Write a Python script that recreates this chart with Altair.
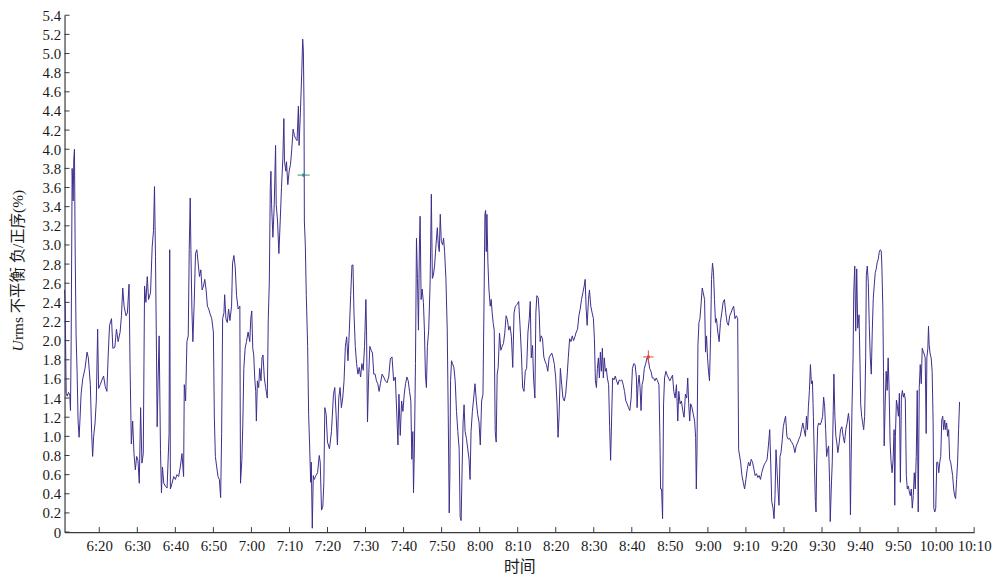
import altair as alt
import pandas as pd

# time in minutes after 6:00, value in %
t_min = [
    10.87, 11.04, 11.30, 11.57, 11.91, 12.26, 12.43, 12.61, 12.87, 13.13, 13.30, 13.48, 13.65, 13.91, 14.17, 14.43,
    14.70, 14.96, 15.22, 15.65, 16.26, 16.78, 17.13, 17.65, 18.00, 18.26, 18.52, 18.87, 19.22, 19.57, 19.83, 20.26,
    20.61, 21.13, 21.57, 22.00, 22.35, 22.70, 23.22, 23.57, 24.09, 24.52, 24.96, 25.48, 25.83, 26.17, 26.52, 27.04,
    27.39, 27.83, 28.09, 28.43, 28.78, 29.13, 29.48, 29.83, 30.17, 30.52, 30.87, 31.22, 31.57, 31.91, 32.26, 32.61,
    32.96, 33.48, 33.91, 34.26, 34.52, 34.78, 35.04, 35.22, 35.48, 35.74, 36.09, 36.35, 36.61, 36.96, 37.39, 37.83,
    38.35, 38.52, 38.70, 39.13, 39.57, 40.00, 40.43, 40.87, 41.30, 41.74, 42.17, 42.35, 42.70, 43.04, 43.39, 43.65,
    43.91, 44.09, 44.35, 44.61, 44.96, 45.30, 45.65, 46.00, 46.35, 46.70, 47.04, 47.39, 47.74, 48.09, 48.43, 48.78,
    49.13, 49.57, 50.00, 50.26, 50.52, 50.87, 51.22, 51.57, 51.91, 52.17, 52.43, 52.78, 52.96, 53.30, 53.65, 54.00,
    54.35, 54.78, 55.04, 55.39, 55.74, 56.09, 56.52, 56.96, 57.13, 57.48, 57.74, 58.00, 58.35, 58.70, 59.13, 59.57,
    59.83, 60.09, 60.35, 60.61, 60.87, 61.13, 61.30, 61.57, 61.91, 62.17, 62.52, 62.78, 63.04, 63.39, 63.74, 64.17,
    64.43, 64.70, 64.96, 65.13, 65.30, 65.65, 66.00, 66.35, 66.52, 66.87, 67.22, 67.57, 67.91, 68.26,
    68.53, 68.70, 69.05, 69.22, 69.57, 69.92, 70.27, 70.61, 70.96, 71.31, 71.66, 72.00, 72.35, 72.53, 72.87, 73.22,
    73.48, 73.66, 73.83, 73.92,
    74.17, 74.43, 74.78, 75.04, 75.30, 75.57, 75.74, 76.00, 76.26, 76.52, 76.96, 77.39, 77.83, 78.09, 78.43, 78.78,
    79.04, 79.30, 79.65, 80.00, 80.52, 81.04, 81.57, 81.91, 82.26, 82.61, 82.96, 83.30, 83.65, 84.00, 84.35, 84.70,
    85.04, 85.39, 85.74, 86.09, 86.43, 86.70, 86.96, 87.30, 87.65, 88.00, 88.35, 88.70, 89.04, 89.39, 89.74, 90.09,
    90.26, 90.52, 90.78, 91.13, 91.48, 91.83, 92.17, 92.52, 92.87, 93.22, 93.57, 93.91, 94.35, 94.78, 95.22, 95.65,
    96.09, 96.52, 96.96, 97.39, 97.83, 98.26, 98.52, 98.78, 99.13, 99.48, 99.83, 100.17, 100.52, 100.87, 101.22, 101.57,
    101.91, 102.17, 102.43, 102.61, 102.87, 103.13, 103.39, 103.65, 103.91, 104.17, 104.35, 104.61, 104.87, 105.22, 105.48, 105.74,
    106.00, 106.26, 106.61, 106.96, 107.13, 107.30, 107.57, 107.83, 108.17, 108.52, 108.87, 109.13, 109.39, 109.65, 109.91, 110.26,
    110.52, 110.78, 111.13, 111.48, 111.74, 112.00, 112.17, 112.35, 112.61, 112.87, 113.22, 113.57, 113.91, 114.26, 114.61, 114.87,
    115.13, 115.39, 115.65, 115.91, 116.17, 116.52, 116.87, 117.22, 117.48, 117.74, 118.09, 118.43, 118.78, 119.13, 119.48, 119.83,
    120.17, 120.52, 120.87, 121.13, 121.39, 121.57, 121.74, 121.91, 122.17, 122.43, 122.78, 123.04, 123.30, 123.57, 123.83, 124.09,
    124.35, 124.61, 124.87, 125.22, 125.57, 125.91, 126.26, 126.61, 126.96, 127.30, 127.65, 128.00, 128.35, 128.70, 129.04, 129.39,
    129.91, 130.26, 130.61, 130.96, 131.30, 131.65, 132.00, 132.35, 132.70, 133.04, 133.30, 133.57, 133.91, 134.17, 134.52, 134.78,
    135.04, 135.39, 135.65, 135.91, 136.17, 136.52, 136.87, 137.22, 137.57, 137.91, 138.26, 138.61, 138.96, 139.30, 139.65, 140.00,
    140.35, 140.61, 140.87, 141.22, 141.57, 141.91, 142.26, 142.61, 142.96, 143.30, 143.65, 144.00, 144.35, 144.70, 145.04, 145.39,
    145.74, 146.09, 146.43, 146.78, 147.13, 147.48, 147.74, 148.00, 148.26, 148.61, 148.87, 149.22, 149.57, 149.91, 150.17, 150.43,
    150.70, 150.96, 151.22, 151.48, 151.74, 152.00, 152.26, 152.52, 152.78, 153.04, 153.30, 153.57, 153.91, 154.17, 154.43, 154.70,
    154.96, 155.30, 155.65, 156.00, 156.35, 156.70, 157.04, 157.39, 157.74, 158.09, 158.43, 158.78, 159.13, 159.48, 159.83, 160.17,
    160.52, 160.87, 161.22, 161.39, 161.65, 161.91, 162.17, 162.43, 162.70, 162.96, 163.30, 163.65, 164.00, 164.35, 164.70, 165.04,
    165.39, 165.74, 166.09, 166.43, 166.78, 167.13, 167.39, 167.57, 167.83, 168.09, 168.35, 168.61, 168.96, 169.30, 169.65, 170.00,
    170.35, 170.70, 171.04, 171.39, 171.74, 172.09, 172.35, 172.70, 173.04, 173.39, 173.74, 174.09, 174.43, 174.70, 174.96, 175.22,
    175.48, 175.83, 176.17, 176.52, 176.78, 176.96, 177.13, 177.39, 177.65, 177.91, 178.17, 178.52, 178.78, 179.13, 179.39, 179.65,
    179.91, 180.17, 180.43, 180.70, 180.96, 181.22, 181.48, 181.74, 182.00, 182.26, 182.61, 182.96, 183.30, 183.65, 184.00, 184.35,
    184.70, 185.04, 185.39, 185.74, 186.09, 186.43, 186.78, 187.13, 187.48, 187.83, 188.09,
    188.61, 188.96, 189.30, 189.65, 190.00, 190.35, 190.70, 191.04, 191.39, 191.74, 192.09, 192.43, 192.78, 193.13, 193.48, 193.83,
    194.17, 194.52, 194.87, 195.22, 195.57, 195.91, 196.26, 196.52, 196.78, 197.13, 197.39, 197.65, 197.91, 198.17, 198.43, 198.70,
    198.96, 199.22, 199.57, 199.83, 200.17, 200.43, 200.78, 201.13, 201.48, 201.83, 202.17, 202.52, 202.87, 203.22, 203.57, 203.91,
    204.26, 204.61, 204.96, 205.30, 205.65, 205.91, 206.17, 206.43, 206.70, 206.96, 207.22, 207.48, 207.74, 208.00, 208.26, 208.43,
    208.61, 208.87, 209.13, 209.48, 209.83, 210.17, 210.43, 210.70, 210.96, 211.22, 211.48, 211.74, 212.00, 212.17, 212.43, 212.70,
    212.96, 213.13, 213.39, 213.65, 213.91, 214.17, 214.52, 214.87, 215.22, 215.57, 215.91, 216.26, 216.61, 216.96, 217.22, 217.48,
    217.65, 217.91, 218.17, 218.35, 218.61, 218.87, 219.13, 219.39, 219.74, 220.00, 220.17, 220.43, 220.70, 220.96, 221.22, 221.48,
    221.65, 221.91, 222.17, 222.43, 222.70, 222.96, 223.22, 223.48, 223.74, 224.00, 224.26, 224.52, 224.78, 225.04, 225.30, 225.57,
    225.74, 226.00, 226.17, 226.35, 226.61, 226.87, 227.13, 227.39, 227.65, 227.91, 228.17, 228.43, 228.70, 228.96, 229.13, 229.30,
    229.57, 229.83, 230.09, 230.35, 230.61, 230.87, 231.13, 231.39, 231.65, 231.91, 232.17, 232.43, 232.70, 232.96, 233.22, 233.48,
    233.74, 234.00, 234.26, 234.52, 234.78, 235.04, 235.30, 235.57, 235.83, 236.09, 236.35, 236.61, 236.87, 237.13, 237.39, 237.57,
    237.83, 238.00, 238.17, 238.43, 238.70, 238.96, 239.22, 239.39, 239.65, 239.91, 240.17, 240.43, 240.70, 240.96, 241.22, 241.48,
    241.74, 242.00, 242.26, 242.52, 242.78, 243.04, 243.30, 243.57, 243.83, 244.09, 244.35, 244.61, 244.87, 245.13, 245.39, 245.65,
    245.91, 246.17,
]

u_val = [
    2.53, 2.36, 1.45, 1.42, 1.46, 1.43, 1.27, 1.99, 3.80, 3.46, 3.90, 4.00, 3.00, 2.05, 1.68, 1.16,
    0.99, 1.20, 1.44, 1.60, 1.71, 1.88, 1.82, 1.54, 1.03, 0.79, 1.00, 1.13, 1.37, 2.12, 1.50, 1.54,
    1.58, 1.63, 1.52, 1.47, 1.85, 2.16, 2.23, 1.92, 1.93, 2.12, 1.99, 2.09, 2.26, 2.55, 2.36, 2.26,
    2.29, 2.59, 1.75, 0.92, 1.16, 0.82, 0.65, 0.79, 0.75, 0.51, 1.30, 0.72, 0.82, 2.57, 2.40, 2.67,
    2.43, 2.50, 2.98, 3.15, 3.61, 2.88, 1.88, 1.10, 1.61, 2.05, 0.86, 0.41, 0.68, 0.51, 0.48, 0.46,
    1.03, 2.95, 0.45, 0.51, 0.58, 0.55, 0.60, 0.58, 0.68, 0.82, 0.58, 1.54, 1.37, 1.99, 2.05, 2.95,
    3.49, 2.95, 2.33, 1.99, 2.40, 2.91, 2.95, 2.81, 2.67, 2.74, 2.53, 2.57, 2.64, 2.53, 2.36, 2.33,
    2.28, 2.23, 2.09, 1.18, 0.79, 0.68, 0.58, 0.55, 0.36, 1.03, 2.23, 2.29, 2.48, 2.23, 2.19, 2.33,
    2.21, 2.36, 2.81, 2.89, 2.77, 2.47, 2.33, 2.36, 0.51, 0.75, 1.13, 1.71, 1.92, 1.99, 2.09, 1.99,
    2.23, 2.31, 1.92, 1.85, 1.61, 1.47, 1.16, 1.58, 1.51, 1.71, 1.58, 1.82, 1.85, 1.61, 1.51, 1.40,
    2.23, 2.60, 3.60, 3.77, 3.42, 3.08, 3.42, 4.04, 3.42, 3.25, 2.91, 3.25, 3.60, 3.90,
    4.32, 3.87, 3.77, 3.87, 3.63, 3.77, 3.84, 4.00, 4.21, 4.14, 4.11, 4.09, 4.45, 4.04, 4.38, 4.79,
    5.15, 5.03, 4.45, 3.25,
    3.00, 2.47, 1.94, 1.23, 0.91, 0.52, 0.73, 0.04, 0.59, 0.55, 0.59, 0.62, 0.80, 0.73, 0.23, 0.27,
    0.52, 1.30, 1.23, 0.94, 0.87, 1.05, 1.44, 1.51, 1.23, 0.91, 1.40, 1.51, 1.30, 1.40, 1.58, 1.94,
    2.04, 1.79, 2.11, 2.47, 2.79, 2.79, 2.29, 1.94, 1.76, 1.65, 1.72, 1.62, 1.76, 1.69, 1.94, 2.43,
    2.11, 1.15, 1.58, 1.94, 1.90, 1.87, 1.65, 1.65, 1.58, 1.55, 1.47, 1.55, 1.65, 1.62, 1.58, 1.56,
    1.62, 1.81, 1.83, 1.58, 1.62, 1.19, 0.91, 1.44, 1.01, 1.37, 1.26, 1.44, 1.55, 1.62, 1.58, 1.47,
    1.37, 0.76, 1.05, 0.41, 0.94, 1.76, 3.07, 2.65, 2.11, 3.00, 3.30, 2.43, 2.54, 2.40, 2.11, 1.65,
    1.51, 1.94, 2.11, 2.58, 3.00, 3.53, 2.65, 2.68, 2.79, 3.00, 3.18, 3.00, 2.93, 3.32, 3.04, 3.00,
    3.07, 2.93, 2.65, 2.11, 1.23, 0.20, 0.59, 1.58, 1.79, 1.76, 1.72, 1.58, 1.26, 1.05, 0.87, 0.16,
    0.12, 0.66, 1.15, 1.33, 1.05, 0.98, 0.87, 0.76, 0.55, 1.05, 1.26, 1.40, 1.55, 1.37, 1.23, 1.15,
    0.91, 1.37, 1.44, 2.33, 3.32, 3.36, 2.93, 3.32, 2.82, 2.54, 2.36, 2.43, 2.29, 2.18, 2.11, 1.05,
    0.94, 1.65, 1.72, 2.08, 1.90, 1.94, 1.97, 2.08, 2.26, 2.22, 2.11, 2.15, 2.04, 1.72, 2.29, 2.36,
    2.38, 2.41, 2.16, 1.88, 1.51, 1.47, 1.68, 1.71, 2.09, 2.23, 2.41, 1.82, 1.95, 1.61, 1.40, 2.29,
    2.47, 2.45, 2.29, 1.99, 2.05, 2.02, 1.83, 1.78, 1.75, 1.68, 1.82, 1.85, 1.87, 1.82, 1.75, 1.61,
    1.34, 0.99, 1.20, 1.71, 1.54, 1.40, 1.37, 1.44, 1.61, 1.82, 2.02, 1.99, 2.05, 2.00, 2.04, 2.09,
    2.12, 2.26, 2.33, 2.43, 2.50, 2.57, 2.64, 2.33, 2.16, 2.43, 2.53, 2.36, 2.29, 2.23, 2.02, 1.58,
    1.51, 1.71, 1.82, 1.61, 1.88, 1.68, 1.92, 1.61, 1.82, 1.68, 1.71, 1.61, 1.54, 1.10, 0.75, 1.20,
    1.61, 1.59, 1.63, 1.58, 1.54, 1.59, 1.58, 1.59, 1.54, 1.47, 1.37, 1.34, 1.30, 1.27, 1.40, 1.71,
    1.76, 1.75, 1.61, 1.30, 1.54, 1.64, 1.51, 1.27, 1.54, 1.58, 1.71, 1.76, 1.82, 1.80, 1.71, 1.68,
    1.61, 1.61, 1.58, 1.61, 1.58, 1.54, 0.99, 0.45, 0.45, 0.14, 1.34, 1.61, 1.68, 1.64, 1.61, 1.58,
    1.61, 1.64, 1.47, 1.40, 1.54, 1.16, 1.47, 1.34, 1.37, 1.27, 1.20, 1.44, 1.40, 1.61, 1.34, 1.16,
    1.34, 1.30, 1.23, 1.16, 0.99, 0.45, 0.82, 1.95, 2.19, 2.23, 2.36, 2.55, 2.50, 2.43, 1.88, 2.05,
    1.82, 1.68, 1.58, 2.02, 2.64, 2.81, 2.71, 2.43, 2.19, 2.23, 2.09, 1.99, 2.19, 2.29, 2.40, 2.43,
    2.29, 2.19, 2.16, 2.26, 2.29, 2.33, 2.36, 2.23, 2.26, 2.23, 0.86,
    0.73, 0.59, 0.52, 0.45, 0.55, 0.66, 0.73, 0.69, 0.76, 0.73, 0.66, 0.59, 0.61, 0.57, 0.59, 0.55,
    0.62, 0.67, 0.71, 0.73, 0.76, 0.90, 1.07, 0.73, 0.32, 0.25, 0.14, 0.38, 0.86, 0.66, 0.45, 0.28,
    0.79, 0.83, 0.97, 1.10, 1.17, 1.21, 1.00, 0.97, 0.98, 0.95, 0.93, 0.90, 0.83, 0.90, 0.93, 0.97,
    1.00, 1.07, 1.14, 1.07, 1.00, 1.21, 1.07, 1.31, 1.48, 1.75, 1.55, 1.58, 1.21, 0.73, 0.32, 0.21,
    0.73, 1.10, 1.14, 1.12, 1.15, 1.21, 1.41, 1.31, 1.07, 0.79, 0.86, 0.90, 0.52, 0.11, 0.45, 0.73,
    1.27, 1.65, 1.21, 1.00, 0.93, 0.83, 0.93, 1.07, 1.10, 1.00, 0.93, 1.07, 1.14, 1.24, 1.14, 0.18,
    0.73, 1.34, 1.82, 2.51, 2.78, 2.10, 2.75, 2.13, 2.27, 1.75, 1.34, 1.21, 1.14, 1.07, 1.21, 1.82,
    2.68, 2.78, 2.61, 2.16, 1.82, 1.65, 2.10, 2.44, 2.58, 2.71, 2.75, 2.82, 2.85, 2.92, 2.95, 2.94,
    2.78, 2.34, 1.68, 0.90, 1.34, 1.68, 1.48, 1.82, 1.48, 0.93, 0.73, 0.62, 0.76, 1.07, 0.28, 1.00,
    1.38, 1.31, 1.21, 1.45, 0.52, 1.41, 1.48, 1.41, 1.45, 1.38, 0.59, 0.45, 0.48, 0.42, 0.38, 0.45,
    0.25, 0.38, 0.62, 0.45, 0.79, 1.48, 0.21, 1.51, 1.75, 1.55, 1.92, 1.89, 1.86, 1.82, 1.03, 1.82,
    1.92, 2.15, 1.96, 1.86, 1.82, 1.68, 1.14, 0.25, 0.21, 0.25, 0.73, 0.73, 0.62, 0.73, 0.79, 1.17,
    1.21, 1.07, 1.17, 1.07, 1.14, 1.00, 1.07, 0.76, 0.73, 0.66, 0.59, 0.45, 0.38, 0.35, 0.55, 0.73,
    1.07, 1.36,
]

# highlighted cursor points
mk_t = [73.74, 164.35]
mk_u = [3.73, 1.83]

x_ticks = [20, 30, 40, 50, 60, 70, 80, 90, 100, 110, 120, 130, 140, 150, 160, 170, 180, 190, 200, 210,
           220, 230, 240, 250]
y_ticks = [0, 0.2, 0.4, 0.6, 0.8, 1.0, 1.2, 1.4, 1.6, 1.8, 2.0, 2.2, 2.4, 2.6, 2.8, 3.0, 3.2, 3.4, 3.6,
           3.8, 4.0, 4.2, 4.4, 4.6, 4.8, 5.0, 5.2, 5.4]

x_title = "时间"
y_title_italic = "U"
y_title_rest = "rms 不平衡 负/正序(%)"

W, H = 917, 521
FONT = "Liberation Serif, Noto Sans CJK SC"
LINE = "#3b2e8c"
AX = "#3a3a3a"
TXT = "#1a1a1a"

df = pd.DataFrame({"t": t_min, "u": u_val})
xscale = alt.Scale(domain=[10.87, 250], nice=False, zero=False)
yscale = alt.Scale(domain=[0, 5.4], nice=False, zero=False)

xaxis = alt.Axis(
    values=x_ticks, ticks=False, grid=False, domainColor=AX, domainWidth=1.2,
    labelExpr="floor(datum.value/60)+6 + ':' + (datum.value%60 < 10 ? '0' : '') + (datum.value%60)",
    labelFont=FONT, labelFontSize=15, labelColor=TXT, labelPadding=7, labelFlush=False,
    title=x_title, titleFont=FONT, titleFontSize=16, titleFontWeight="normal", titleColor=TXT,
    titlePadding=5)
yaxis = alt.Axis(
    values=y_ticks, ticks=False, grid=False, domainColor=AX, domainWidth=1.2,
    labelExpr="datum.value == 0 ? '0' : format(datum.value, '.1f')",
    labelFont=FONT, labelFontSize=15, labelColor=TXT, labelPadding=4, labelFlush=False,
    title="")

line = alt.Chart(df).mark_line(color=LINE, strokeWidth=1, interpolate="linear").encode(
    x=alt.X("t:Q", scale=xscale, axis=xaxis),
    y=alt.Y("u:Q", scale=yscale, axis=yaxis),
)

ytick = alt.Chart(pd.DataFrame({"v": y_ticks})).mark_rule(color=AX, strokeWidth=1).encode(
    y=alt.Y("v:Q", scale=yscale, axis=yaxis), x=alt.value(0), x2=alt.value(5))
xtick = alt.Chart(pd.DataFrame({"v": x_ticks})).mark_rule(color=AX, strokeWidth=1).encode(
    x=alt.X("v:Q", scale=xscale, axis=xaxis), y=alt.value(H), y2=alt.value(H - 5))

mk = pd.DataFrame({"t": mk_t, "u": mk_u, "c": ["#2e8c7c", "#e0473c"]})
mk_green = alt.Chart(mk.iloc[[0]]).mark_point(
    shape="M-1,0L1,0M0,-0.25L0,0.25", filled=False, strokeWidth=1, size=150, color="#2e8c7c", opacity=1).encode(
    x=alt.X("t:Q", scale=xscale, axis=xaxis), y=alt.Y("u:Q", scale=yscale, axis=yaxis))
mk_red = alt.Chart(mk.iloc[[1]]).mark_point(
    shape="M-0.8,0L0.8,0M0,-1L0,1", filled=False, strokeWidth=1, size=170, color="#e0473c", opacity=1).encode(
    x=alt.X("t:Q", scale=xscale, axis=xaxis), y=alt.Y("u:Q", scale=yscale, axis=yaxis))
mk_dot = alt.Chart(mk).mark_point(shape="square", filled=True, size=8, opacity=1).encode(
    x=alt.X("t:Q", scale=xscale, axis=xaxis), y=alt.Y("u:Q", scale=yscale, axis=yaxis),
    color=alt.Color("c:N", scale=None, legend=None))

yt1 = alt.Chart(pd.DataFrame({"s": [y_title_italic]})).mark_text(
    angle=270, align="left", baseline="middle", font="Liberation Serif", fontSize=15.5,
    fontStyle="italic", color=TXT).encode(text="s:N", x=alt.value(-47), y=alt.value(339))
yt2 = alt.Chart(pd.DataFrame({"s": [y_title_rest]})).mark_text(
    angle=270, align="left", baseline="middle", font=FONT, fontSize=15.5, color=TXT).encode(
    text="s:N", x=alt.value(-47), y=alt.value(327.5))

chart = alt.layer(line, ytick, xtick, mk_green, mk_red, mk_dot, yt1, yt2).properties(
    width=W, height=H, autosize="none",
    padding={"left": 57, "top": 5, "right": 18, "bottom": 45},
).configure_view(stroke=None)

chart.save("out.html", embed_options={"renderer": "svg", "actions": False})
